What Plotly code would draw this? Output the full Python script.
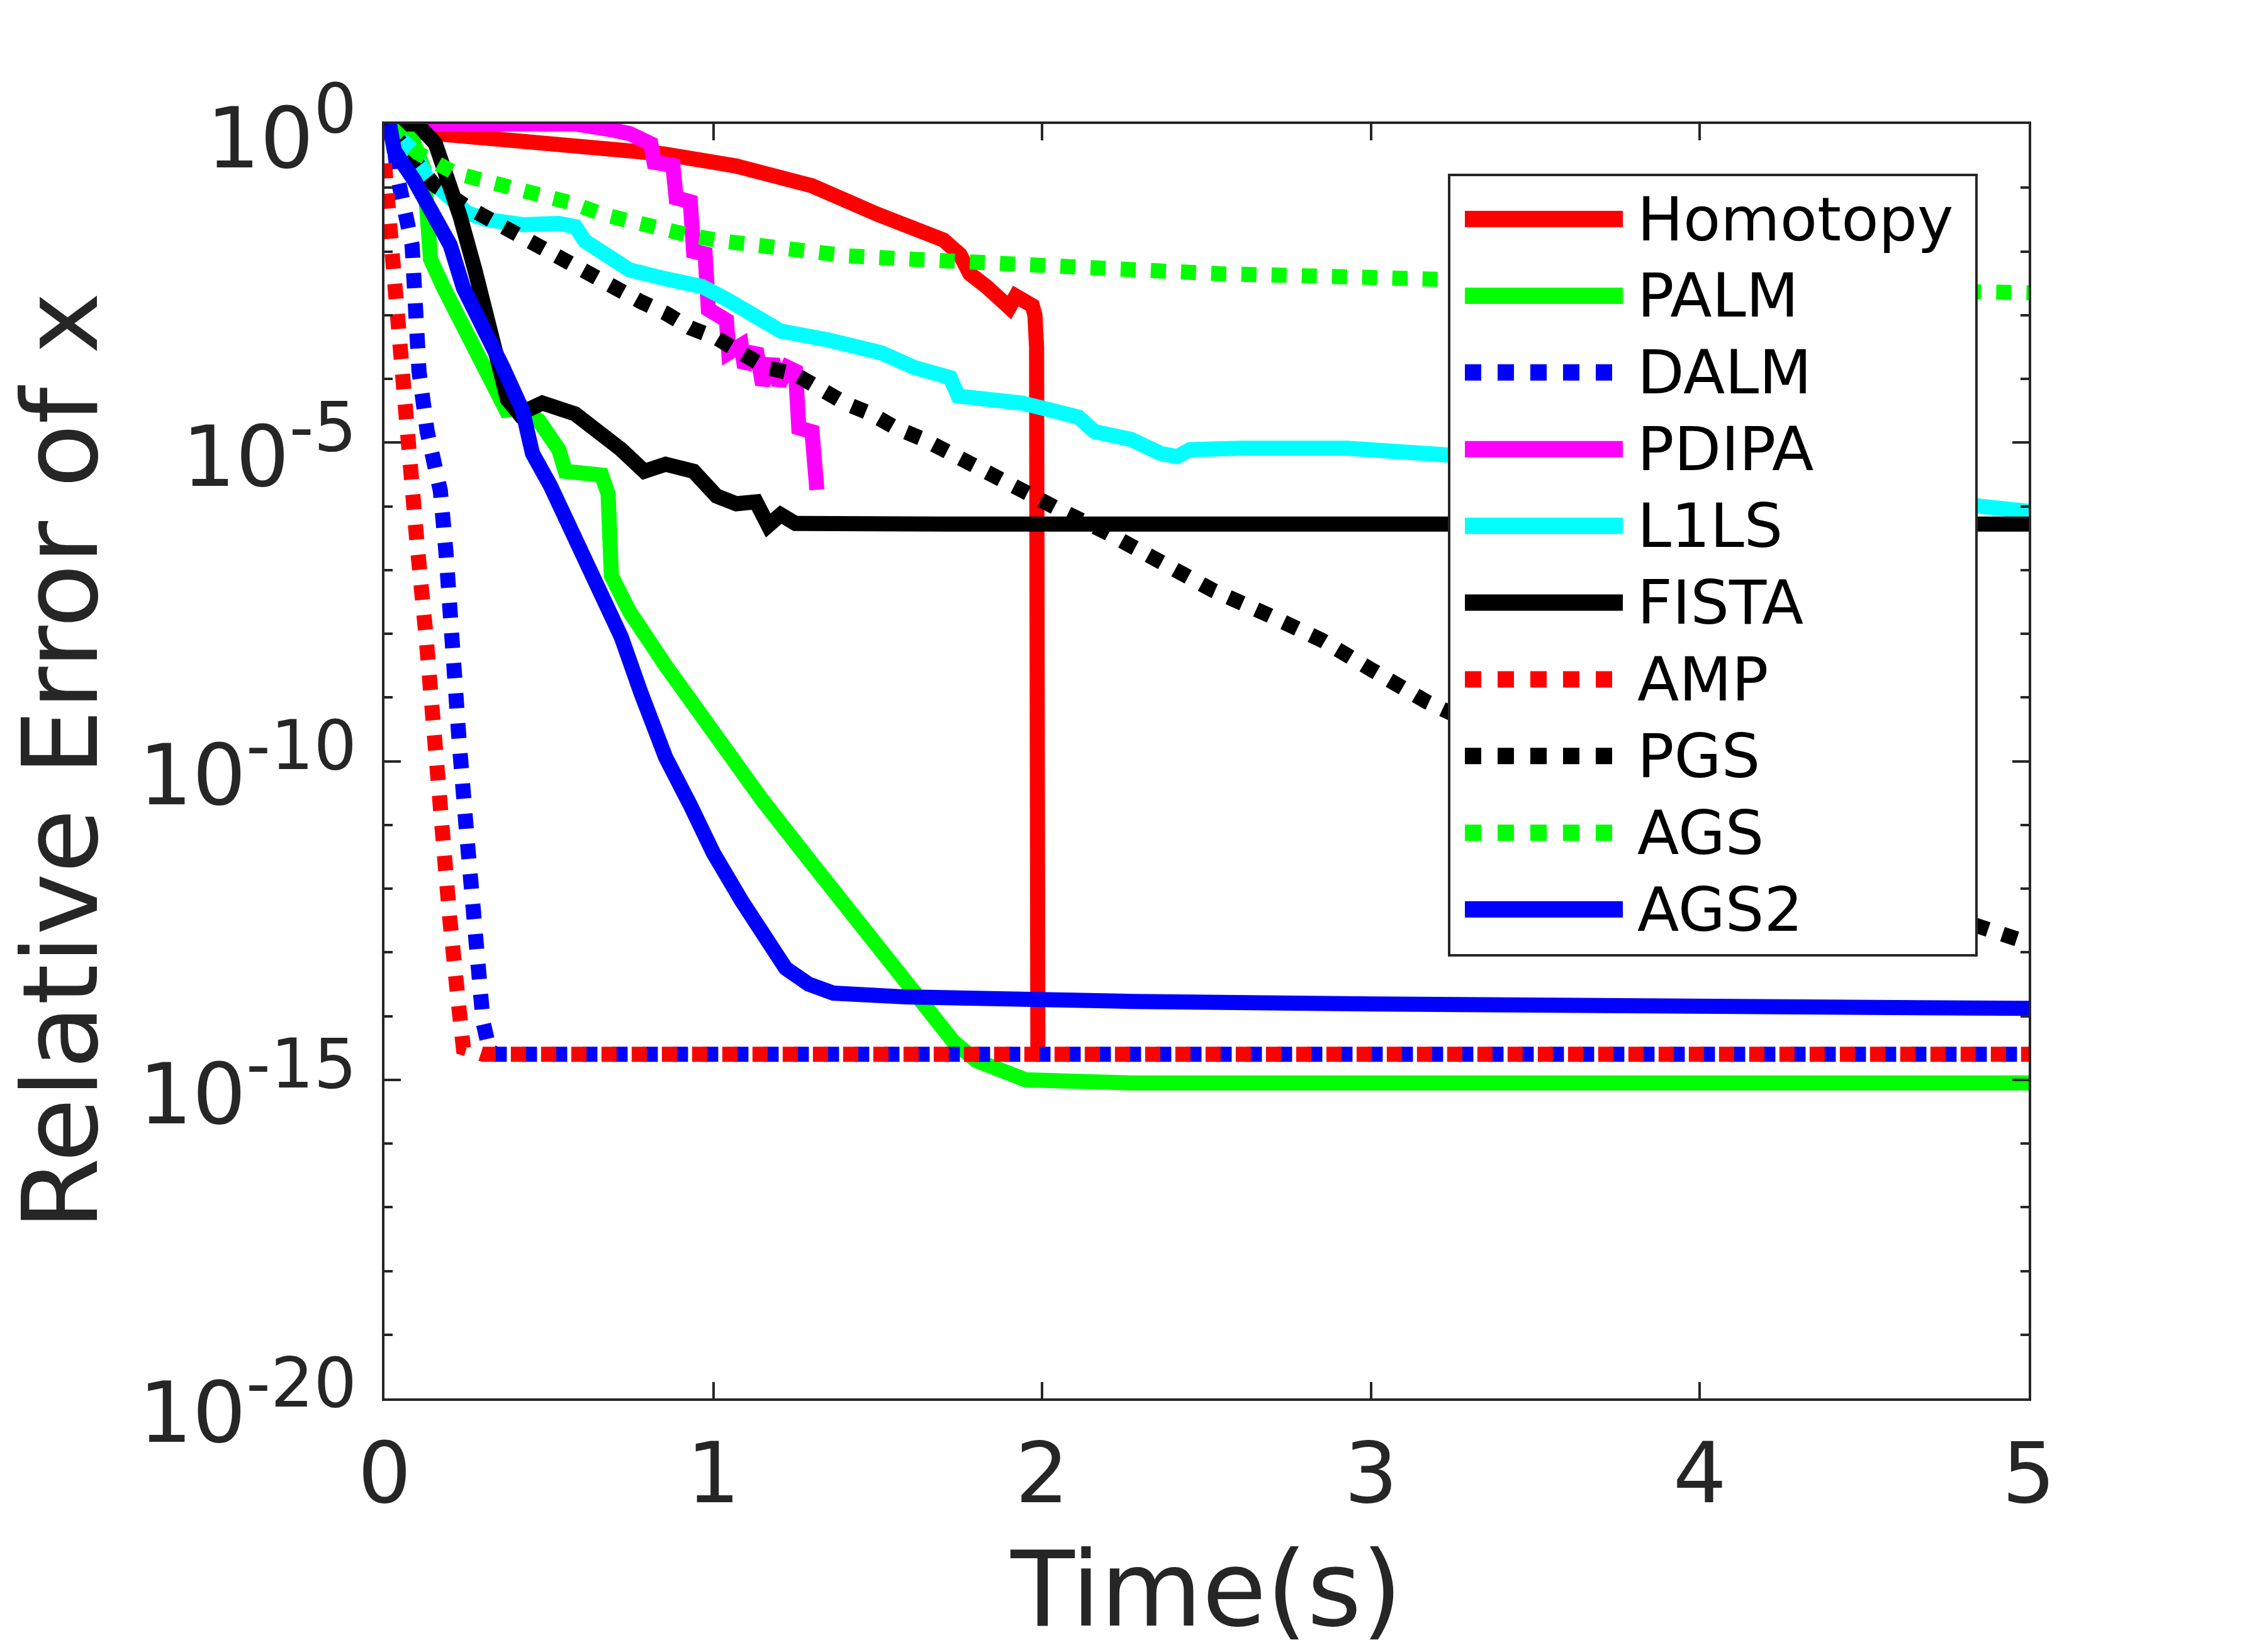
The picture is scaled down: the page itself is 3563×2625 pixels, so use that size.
import numpy as np
import plotly.graph_objects as go

# time (s) and log10(relative error)
homotopy_t = [0.0, 0.4, 0.85, 1.07, 1.3, 1.5, 1.61, 1.70, 1.75, 1.78, 1.83, 1.90, 1.92, 1.97, 1.978, 1.983, 1.987]
homotopy_e = [-0.08, -0.27, -0.47, -0.66, -0.97, -1.42, -1.64, -1.82, -2.05, -2.35, -2.55, -2.88, -2.70, -2.85, -3.0, -3.5, -14.65]

palm_t = [0.02, 0.08, 0.12, 0.14, 0.18, 0.24, 0.30, 0.34, 0.37, 0.42, 0.47, 0.53, 0.55, 0.66, 0.68, 0.69,
          0.745, 0.855, 1.0, 1.146, 1.29, 1.44, 1.585, 1.73, 1.80, 1.95, 2.27, 3.0, 4.0, 5.0]
palm_e = [0.0, -0.17, -0.71, -2.12, -2.57, -3.2, -3.70, -4.21, -4.49, -4.45, -4.66, -5.11, -5.45, -5.51, -5.8, -7.09,
          -7.65, -8.5, -9.58, -10.59, -11.54, -12.49, -13.45, -14.4, -14.7, -15.0, -15.05, -15.05, -15.05, -15.05]

dalm_t = [0.02, 0.044, 0.084, 0.094, 0.105, 0.13, 0.17, 0.187, 0.198, 0.214, 0.227, 0.25, 0.27, 0.30, 0.32, 0.34, 5.0]
dalm_e = [0.0, -0.93, -1.9, -2.88, -3.88, -4.83, -5.76, -6.72, -7.71, -8.5, -9.68, -11.14, -12.59, -14.1, -14.55, -14.6, -14.6]

pdipa_t = [0.02, 0.58, 0.69, 0.745, 0.81, 0.82, 0.877, 0.887, 0.93, 0.94, 0.975, 0.985, 1.04, 1.047, 1.085,
           1.095, 1.13, 1.15, 1.18, 1.20, 1.226, 1.25, 1.26, 1.30, 1.315]
pdipa_e = [0.0, 0.0, -0.09, -0.15, -0.31, -0.6, -0.65, -1.16, -1.22, -2.0, -2.04, -2.91, -3.08, -3.59, -3.47,
           -3.82, -3.53, -4.09, -3.70, -4.09, -3.82, -3.88, -4.77, -4.83, -5.74]

l1ls_t = [0.0, 0.04, 0.088, 0.13, 0.176, 0.25, 0.31, 0.42, 0.53, 0.58, 0.61, 0.68, 0.745, 0.855, 0.965, 1.04,
          1.13, 1.205, 1.35, 1.51, 1.61, 1.72, 1.745, 1.94, 2.11, 2.16, 2.27, 2.36, 2.41, 2.45, 2.60, 2.82,
          2.93, 3.22, 3.6, 4.0, 4.4, 4.8, 5.0]
l1ls_e = [-0.09, -0.2, -0.42, -0.85, -1.05, -1.39, -1.5, -1.58, -1.56, -1.61, -1.84, -2.06, -2.29, -2.43, -2.55, -2.75,
          -3.0, -3.25, -3.39, -3.59, -3.82, -3.98, -4.27, -4.38, -4.60, -4.83, -4.95, -5.17, -5.22, -5.11, -5.09, -5.06,
          -5.09, -5.19, -5.35, -5.55, -5.75, -6.0, -6.08]

fista_t = [0.0, 0.1, 0.155, 0.187, 0.23, 0.275, 0.307, 0.34, 0.374, 0.41, 0.48, 0.58, 0.66, 0.72, 0.79, 0.855,
           0.94, 1.01, 1.07, 1.13, 1.167, 1.205, 1.25, 1.7, 5.0]
fista_e = [0.0, 0.0, -0.31, -0.77, -1.45, -2.29, -3.02, -3.70, -4.32, -4.55, -4.38, -4.55, -4.83, -5.11, -5.45, -5.34,
           -5.45, -5.84, -5.96, -5.93, -6.30, -6.13, -6.27, -6.28, -6.28]

amp_t = [0.0, 0.023, 0.044, 0.072, 0.099, 0.126, 0.147, 0.168, 0.198, 0.227, 0.24, 0.3, 5.0]
amp_e = [-0.62, -2.14, -3.62, -5.12, -6.58, -8.02, -9.48, -10.94, -12.44, -13.9, -14.5, -14.6, -14.6]

pgs_t = [0.02, 0.15, 0.25, 0.32, 0.395, 0.47, 0.55, 0.625, 0.70, 0.78, 0.855, 0.93, 1.01, 1.085, 1.16, 1.25,
         1.315, 1.40, 1.48, 1.555, 1.64, 1.72, 1.875, 2.04, 2.195, 2.36, 2.52, 2.69, 2.85, 3.0, 3.17, 3.6,
         4.0, 4.5, 5.0]
pgs_e = [-0.1, -0.95, -1.3, -1.5, -1.72, -1.95, -2.17, -2.37, -2.58, -2.79, -2.97, -3.2, -3.36, -3.59, -3.82, -3.93,
         -4.15, -4.38, -4.55, -4.77, -4.95, -5.17, -5.62, -6.02, -6.41, -6.87, -7.32, -7.71, -8.1, -8.56, -9.07, -10.1,
         -11.0, -12.0, -12.85]

ags_t = [0.02, 0.1, 0.214, 0.307, 0.40, 0.49, 0.576, 0.664, 0.757, 0.843, 0.93, 1.03, 1.216, 1.41, 1.594,
         1.79, 2.16, 2.54, 2.93, 3.2, 4.0, 4.5, 5.0]
ags_e = [-0.05, -0.45, -0.77, -0.88, -0.99, -1.1, -1.25, -1.42, -1.55, -1.67, -1.75, -1.84, -1.98, -2.07, -2.12,
         -2.17, -2.26, -2.35, -2.40, -2.45, -2.55, -2.6, -2.65]

ags2_t = [0.015, 0.03, 0.09, 0.14, 0.20, 0.24, 0.31, 0.36, 0.42, 0.45, 0.505, 0.55, 0.60, 0.66, 0.72, 0.78,
          0.855, 0.93, 1.0, 1.087, 1.146, 1.22, 1.29, 1.365, 1.585, 1.875, 2.27, 3.0, 4.0, 5.0]
ags2_e = [0.0, -0.42, -0.88, -1.33, -1.9, -2.57, -3.25, -3.82, -4.5, -5.17, -5.68, -6.19, -6.81, -7.37, -8.05, -8.93,
          -9.94, -10.69, -11.44, -12.2, -12.69, -13.25, -13.5, -13.64, -13.70, -13.75, -13.77, -13.81, -13.85, -13.88]

x_ticks = [0, 1, 2, 3, 4, 5]
y_ticks = [1e0, 1e-5, 1e-10, 1e-15, 1e-20]
y_exponents = ["0", "-5", "-10", "-15", "-20"]

AXIS = "#262626"
FONT = "DejaVu Sans"
W, H = 3563, 2625
L, R, T, B = 611, 3224, 197, 2222   # plot area in pixels

series = [
    ("Homotopy", homotopy_t, homotopy_e, "#ff0000", "solid"),
    ("PALM", palm_t, palm_e, "#00ff00", "solid"),
    ("DALM", dalm_t, dalm_e, "#0000ff", "dot"),
    ("PDIPA", pdipa_t, pdipa_e, "#ff00ff", "solid"),
    ("L1LS", l1ls_t, l1ls_e, "#00ffff", "solid"),
    ("FISTA", fista_t, fista_e, "#000000", "solid"),
    ("AMP", amp_t, amp_e, "#ff0000", "dot"),
    ("PGS", pgs_t, pgs_e, "#000000", "dot"),
    ("AGS", ags_t, ags_e, "#00ff00", "dot"),
    ("AGS2", ags2_t, ags2_e, "#0000ff", "solid"),
]


def px(x):
    return (x - L) / (R - L)


def py(y):
    return (B - y) / (B - T)


fig = go.Figure()
for name, t, e, color, dash in series:
    fig.add_trace(go.Scatter(
        x=t, y=10.0 ** np.array(e), mode="lines", name=name, showlegend=False,
        line=dict(color=color, width=24, dash=dash),
    ))

# MATLAB-style legend box with long, thick line samples
shapes = [dict(type="rect", xref="paper", yref="paper",
               x0=px(2303), x1=px(3141), y0=py(1518), y1=py(278),
               fillcolor="white", line=dict(color=AXIS, width=4))]
annotations = []
for i, (name, t, e, color, dash) in enumerate(series):
    yc = 348 + i * 121.9
    shapes.append(dict(type="line", xref="paper", yref="paper",
                       x0=px(2328), x1=px(2579), y0=py(yc), y1=py(yc),
                       line=dict(color=color, width=26, dash=dash)))
    annotations.append(dict(xref="paper", yref="paper", x=px(2600), y=py(yc),
                            xanchor="left", yanchor="middle", showarrow=False, text=name,
                            font=dict(family=FONT, size=97, color="black")))

fig.update_layout(
    width=W, height=H,
    margin=dict(l=L, r=W - R, t=T, b=H - B, pad=0),
    paper_bgcolor="white", plot_bgcolor="white",
    font=dict(family=FONT, color=AXIS),
    showlegend=False,
    shapes=shapes,
    annotations=annotations,
)

fig.update_xaxes(
    range=[0, 5], tickmode="array", tickvals=x_ticks,
    ticks="inside", ticklen=26, tickwidth=4, tickcolor=AXIS,
    showline=True, linecolor=AXIS, linewidth=4, mirror="ticks",
    showgrid=False, zeroline=False,
    tickfont=dict(size=134, color=AXIS),
    title=dict(text="Time(s)", font=dict(size=166, color=AXIS), standoff=50),
)
fig.update_yaxes(
    type="log", range=[-20, 0], tickmode="array", tickvals=y_ticks,
    ticktext=["10<sup><span style='font-size:115%'>" + p + "</span></sup>" for p in y_exponents],
    ticks="inside", ticklen=26, tickwidth=4, tickcolor=AXIS,
    minor=dict(ticks="inside", ticklen=13, tickwidth=4, tickcolor=AXIS, dtick=1),
    showline=True, linecolor=AXIS, linewidth=4, mirror="ticks",
    showgrid=False, zeroline=False,
    tickfont=dict(size=134, color=AXIS), ticklabelstandoff=13, ticklabelshift=22,
    title=dict(text="Relative Error of x", font=dict(size=166, color=AXIS), standoff=25),
)

fig.write_html("out.html", config={"displayModeBar": False},
               post_script="document.body.style.margin = '0';")
